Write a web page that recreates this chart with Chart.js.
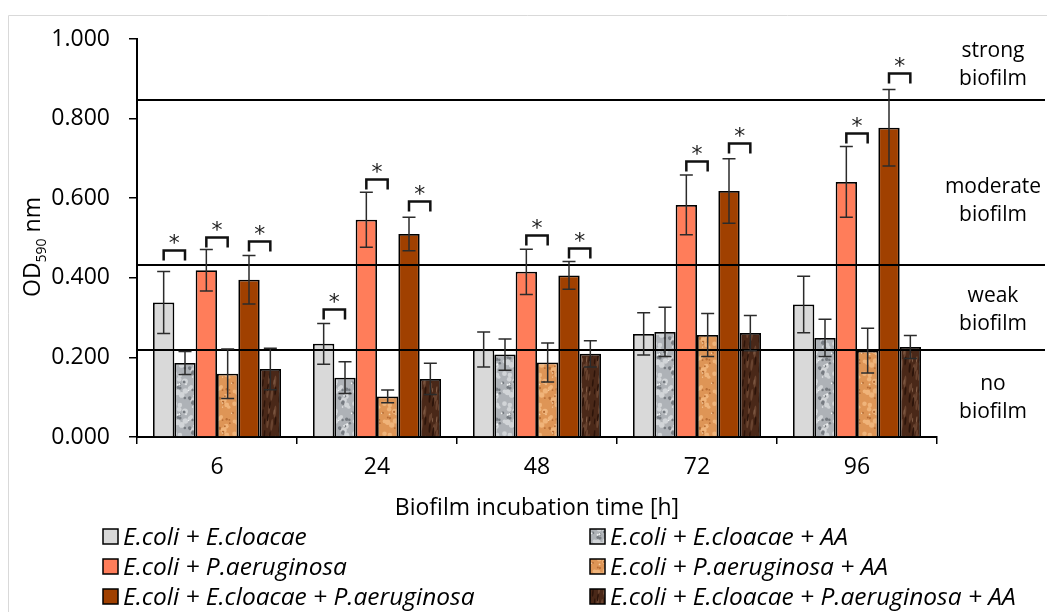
<!DOCTYPE html>
<html>
<head>
<meta charset="utf-8">
<script src="https://cdn.jsdelivr.net/npm/chart.js@4.4.1/dist/chart.umd.min.js"></script>
<style>
  html, body { margin: 0; padding: 0; background: #fff; }
</style>
</head>
<body>
<canvas id="biofilmChart" width="1047" height="612"></canvas>
<script>
// Incubation times (x categories)
const hours = ['6', '24', '48', '72', '96'];

const seriesNames = [
    'E.coli + E.cloacae',
    'E.coli + E.cloacae + AA',
    'E.coli + P.aeruginosa',
    'E.coli + P.aeruginosa + AA',
    'E.coli + E.cloacae + P.aeruginosa',
    'E.coli + E.cloacae + P.aeruginosa + AA'
];

// OD590 means and error bar half-widths, one array per series
const ecEcl = [0.338, 0.234, 0.220, 0.259, 0.333];
const ecEclErr = [0.078, 0.051, 0.044, 0.053, 0.071];
const ecEclAA = [0.186, 0.149, 0.207, 0.264, 0.249];
const ecEclAAErr = [0.029, 0.040, 0.039, 0.062, 0.047];
const ecPa = [0.419, 0.546, 0.415, 0.583, 0.641];
const ecPaErr = [0.052, 0.069, 0.057, 0.075, 0.089];
const ecPaAA = [0.159, 0.102, 0.187, 0.256, 0.217];
const ecPaAAErr = [0.062, 0.016, 0.049, 0.054, 0.056];
const ecEclPa = [0.395, 0.510, 0.406, 0.618, 0.777];
const ecEclPaErr = [0.061, 0.042, 0.035, 0.081, 0.096];
const ecEclPaAA = [0.171, 0.146, 0.209, 0.261, 0.226];
const ecEclPaAAErr = [0.052, 0.039, 0.033, 0.044, 0.029];

// y axis ticks
const yTicks = [0, 0.2, 0.4, 0.6, 0.8, 1.0];

// biofilm class cut-offs and the zone names between them
const thresholds = [0.219, 0.431, 0.846];
const zoneNames = [['no', 'biofilm'], ['weak', 'biofilm'], ['moderate', 'biofilm'], ['strong', 'biofilm']];

// significance brackets: group index, first bar of the pair, bracket level (OD)
const sigGroup = [0, 0, 0, 1, 1, 1, 2, 2, 3, 3, 4, 4];
const sigFirstBar = [0, 2, 4, 0, 2, 4, 2, 4, 2, 4, 2, 4];
const sigLevel = [0.470, 0.502, 0.493, 0.321, 0.647, 0.594, 0.508, 0.474, 0.693, 0.738, 0.765, 0.915];

const FONT = "'Open Sans', sans-serif";
const canvas = document.getElementById('biofilmChart');
const ctx = canvas.getContext('2d');

// texture tiles for the "+ AA" bars (photo-like fills in the original)
function hash(n) {
    const s = Math.sin(n * 12.9898) * 43758.5453;
    return s - Math.floor(s);
}

function makeTexture(base, blobs, kind) {
    const size = 30;
    const c = document.createElement('canvas');
    c.width = size; c.height = size;
    const g = c.getContext('2d');
    g.fillStyle = base;
    g.fillRect(0, 0, size, size);
    let n = 1;
    blobs.forEach(([colour, count, rMin, rMax]) => {
        g.fillStyle = colour;
        for (let i = 0; i < count; i++, n++) {
            const x = hash(n) * size;
            const y = hash(n + 101) * size;
            const r = rMin + hash(n + 211) * (rMax - rMin);
            // draw wrapped copies so the tile repeats seamlessly
            for (const dx of [-size, 0, size]) {
                for (const dy of [-size, 0, size]) {
                    g.beginPath();
                    if (kind === 'wood') {
                        g.ellipse(x + dx, y + dy, r * 0.45, r * 2.2, 0.1, 0, Math.PI * 2);
                    } else {
                        g.arc(x + dx, y + dy, r, 0, Math.PI * 2);
                    }
                    g.fill();
                }
            }
        }
    });
    return ctx.createPattern(c, 'repeat');
}

const granite = makeTexture('#aeb2b7', [['#d2d5d8', 14, 1.5, 3.2], ['#767b81', 16, 0.8, 2.0], ['#eef0f1', 8, 0.6, 1.2]], 'spots');
const sponge = makeTexture('#de9556', [['#f0b47a', 14, 1.5, 3.0], ['#b86d35', 14, 0.6, 1.4], ['#f8d3a6', 6, 0.5, 1.0]], 'spots');
const wood = makeTexture('#4a2818', [['#6a4430', 10, 1.5, 3.0], ['#2c140a', 10, 1.0, 2.4], ['#85604a', 4, 0.8, 1.6]], 'wood');

const seriesValues = [ecEcl, ecEclAA, ecPa, ecPaAA, ecEclPa, ecEclPaAA];
const seriesErrors = [ecEclErr, ecEclAAErr, ecPaErr, ecPaAAErr, ecEclPaErr, ecEclPaAAErr];
const seriesFills = ['#d9d9d9', granite, '#ff7d5a', sponge, '#a04000', wood];

const datasets = seriesNames.map((name, i) => ({
    label: name,
    data: seriesValues[i],
    errors: seriesErrors[i],
    backgroundColor: seriesFills[i],
    borderColor: '#000',
    borderWidth: 1.75,
    categoryPercentage: 0.8,
    barPercentage: 1.0
}));

const decorPlugin = {
    id: 'biofilmDecor',
    beforeDraw(chart) {
        const c = chart.ctx;
        c.save();
        c.strokeStyle = '#d9d9d9';
        c.lineWidth = 1;
        c.beginPath();
        c.moveTo(8.5, chart.height);
        c.lineTo(8.5, 15.5);
        c.lineTo(chart.width, 15.5);
        c.stroke();
        c.restore();
    },
    afterDatasetsDraw(chart) {
        const c = chart.ctx;
        const ys = chart.scales.y;
        const area = chart.chartArea;
        c.save();

        // cut-off lines run through the bars out to the right edge
        c.strokeStyle = '#000';
        c.lineWidth = 2;
        thresholds.forEach(t => {
            const y = Math.round(ys.getPixelForValue(t));
            c.beginPath();
            c.moveTo(area.left, y);
            c.lineTo(chart.width - 2, y);
            c.stroke();
        });

        // error bars
        c.strokeStyle = '#2b2b2b';
        c.lineWidth = 1.5;
        chart.data.datasets.forEach((ds, i) => {
            const meta = chart.getDatasetMeta(i);
            meta.data.forEach((bar, j) => {
                const v = ds.data[j];
                const e = ds.errors[j];
                const yTop = ys.getPixelForValue(v + e);
                const yBot = ys.getPixelForValue(v - e);
                c.beginPath();
                c.moveTo(bar.x, yTop); c.lineTo(bar.x, yBot);
                c.moveTo(bar.x - 6.5, yTop); c.lineTo(bar.x + 6.5, yTop);
                c.moveTo(bar.x - 6.5, yBot); c.lineTo(bar.x + 6.5, yBot);
                c.stroke();
            });
        });

        // significance brackets with asterisks
        c.strokeStyle = '#111';
        c.lineWidth = 2.5;
        c.fillStyle = '#222';
        c.font = "22px 'DejaVu Sans'";
        c.textAlign = 'center';
        c.textBaseline = 'alphabetic';
        sigGroup.forEach((g, k) => {
            const x1 = chart.getDatasetMeta(sigFirstBar[k]).data[g].x;
            const x2 = chart.getDatasetMeta(sigFirstBar[k] + 1).data[g].x;
            const y = Math.round(ys.getPixelForValue(sigLevel[k])) + 0.5;
            c.beginPath();
            c.moveTo(x1, y + 10);
            c.lineTo(x1, y);
            c.lineTo(x2, y);
            c.lineTo(x2, y + 10);
            c.stroke();
            c.fillText('*', (x1 + x2) / 2, y - 1);
        });
        c.restore();
    },
    afterDraw(chart) {
        const c = chart.ctx;
        const ys = chart.scales.y;
        const area = chart.chartArea;
        c.save();
        c.fillStyle = '#000';

        // y title with subscript
        c.save();
        c.translate(40, 297);
        c.rotate(-Math.PI / 2);
        c.textAlign = 'left';
        c.textBaseline = 'alphabetic';
        c.font = '23px ' + FONT;
        c.fillText('OD', 0, 0);
        let w = c.measureText('OD').width;
        c.font = '14px ' + FONT;
        c.fillText('590', w, 6);
        w += c.measureText('590').width;
        c.font = '23px ' + FONT;
        c.fillText(' nm', w, 0);
        c.restore();

        // x title
        c.font = '23px ' + FONT;
        c.textAlign = 'center';
        c.textBaseline = 'alphabetic';
        c.fillText('Biofilm incubation time [h]', (area.left + area.right) / 2, 515);

        // zone names on the right
        const zoneCentres = [0.099, 0.318, 0.592, 0.935];
        c.font = '21px ' + FONT;
        c.textBaseline = 'middle';
        zoneNames.forEach((lines, k) => {
            const yc = ys.getPixelForValue(zoneCentres[k]);
            c.fillText(lines[0], 993, yc - 14);
            c.fillText(lines[1], 993, yc + 14);
        });

        // legend, two columns
        const colX = [103, 590];
        const rowBase = [545, 575, 605];
        c.textAlign = 'left';
        c.textBaseline = 'alphabetic';
        c.font = 'italic 24.5px ' + FONT;
        seriesNames.forEach((name, i) => {
            const x = colX[i % 2];
            const yb = rowBase[Math.floor(i / 2)];
            c.fillStyle = seriesFills[i];
            c.fillRect(x, yb - 16, 15, 15);
            c.strokeStyle = '#000';
            c.lineWidth = 1.5;
            c.strokeRect(x, yb - 16, 15, 15);
            c.fillStyle = '#000';
            c.fillText(name, x + 20, yb);
        });
        c.restore();
    }
};

new Chart(ctx, {
    type: 'bar',
    data: {
        labels: hours,
        datasets: datasets
    },
    options: {
        responsive: false,
        animation: false,
        layout: {
            padding: { left: 0, top: 39, right: 110, bottom: 0 }
        },
        plugins: {
            legend: { display: false },
            tooltip: { enabled: false }
        },
        scales: {
            x: {
                offset: true,
                grid: {
                    offset: true,
                    drawOnChartArea: false,
                    drawTicks: true,
                    tickLength: 7,
                    color: '#000',
                    lineWidth: 1.5
                },
                border: { color: '#000', width: 2 },
                ticks: {
                    font: { family: FONT, size: 23 },
                    color: '#000',
                    padding: 10
                },
                afterFit(scale) { scale.height = 175; }
            },
            y: {
                min: 0,
                max: 1,
                afterBuildTicks(scale) { scale.ticks = yTicks.map(v => ({ value: v })); },
                ticks: {
                    font: { family: FONT, size: 23 },
                    color: '#000',
                    padding: 19,
                    callback: v => v.toFixed(3)
                },
                grid: {
                    drawOnChartArea: false,
                    drawTicks: true,
                    tickLength: 8,
                    color: '#000',
                    lineWidth: 1.5
                },
                border: { color: '#000', width: 2 },
                afterFit(scale) { scale.width = 137; }
            }
        }
    },
    plugins: [decorPlugin]
});
</script>
</body>
</html>
